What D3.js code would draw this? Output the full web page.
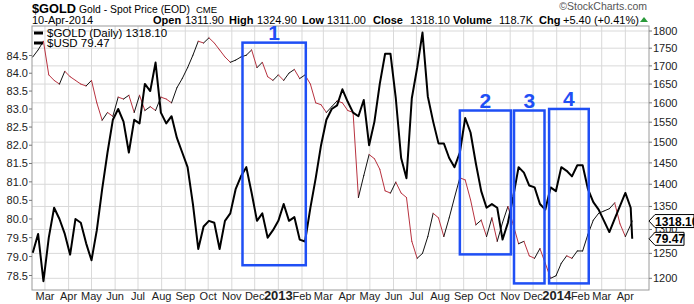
<!DOCTYPE html>
<html>
<head>
<meta charset="utf-8">
<script src="https://cdn.jsdelivr.net/npm/d3@7"></script>
<style>
  body { margin: 0; background: #fff; }
  text { font-family: Arial, "Liberation Sans", sans-serif; }
</style>
</head>
<body>
<script>
// Weekly closes (last point is 10-Apr-2014)
const dates = [
  "2012-02-14","2012-02-21","2012-02-28","2012-03-06","2012-03-13","2012-03-20","2012-03-27",
  "2012-04-03","2012-04-10","2012-04-17","2012-04-24","2012-05-01","2012-05-08","2012-05-15",
  "2012-05-22","2012-05-29","2012-06-05","2012-06-12","2012-06-19","2012-06-26","2012-07-03",
  "2012-07-10","2012-07-17","2012-07-24","2012-07-31","2012-08-07","2012-08-14","2012-08-21",
  "2012-08-28","2012-09-04","2012-09-11","2012-09-18","2012-09-25","2012-10-02","2012-10-09",
  "2012-10-16","2012-10-23","2012-10-30","2012-11-06","2012-11-13","2012-11-20","2012-11-27",
  "2012-12-04","2012-12-11","2012-12-18","2012-12-25","2013-01-01","2013-01-08","2013-01-15",
  "2013-01-22","2013-01-29","2013-02-05","2013-02-12","2013-02-19","2013-02-26","2013-03-05",
  "2013-03-12","2013-03-19","2013-03-26","2013-04-02","2013-04-09","2013-04-16","2013-04-23",
  "2013-04-30","2013-05-07","2013-05-14","2013-05-21","2013-05-28","2013-06-04","2013-06-11",
  "2013-06-18","2013-06-25","2013-07-02","2013-07-09","2013-07-16","2013-07-23","2013-07-30",
  "2013-08-06","2013-08-13","2013-08-20","2013-08-27","2013-09-03","2013-09-10","2013-09-17",
  "2013-09-24","2013-10-01","2013-10-08","2013-10-15","2013-10-22","2013-10-29","2013-11-05",
  "2013-11-12","2013-11-19","2013-11-26","2013-12-03","2013-12-10","2013-12-17","2013-12-24",
  "2013-12-31","2014-01-07","2014-01-14","2014-01-21","2014-01-28","2014-02-04","2014-02-11",
  "2014-02-18","2014-02-25","2014-03-04","2014-03-11","2014-03-18","2014-03-25","2014-04-01",
  "2014-04-08","2014-04-10"
];

const gold = [
  1725,1745,1770,1675,1660,1650,1685,1670,1660,1650,1645,1660,1600,1555,
  1575,1565,1615,1610,1620,1575,1620,1580,1590,1580,1615,1610,1600,1640,
  1665,1695,1730,1770,1765,1780,1765,1745,1725,1710,1716,1725,1730,1745,
  1695,1710,1670,1660,1675,1660,1680,1690,1665,1675,1650,1600,1595,1575,
  1590,1605,1600,1580,1575,1370,1420,1470,1460,1435,1385,1380,1405,1380,
  1370,1275,1240,1250,1285,1335,1325,1285,1325,1370,1415,1410,1365,1310,
  1320,1285,1325,1275,1315,1350,1310,1270,1275,1245,1240,1260,1230,1200,
  1205,1230,1245,1240,1255,1255,1290,1320,1335,1340,1345,1358,1312,1285,
  1310,1318.1
];

const usd = [
  79.1,79.6,78.35,79.5,80.3,80.0,79.6,79.05,80.0,79.9,79.35,78.9,79.7,80.8,
  81.8,82.7,83.0,82.65,81.8,82.7,82.6,83.7,83.5,84.3,82.9,82.6,82.8,82.2,
  81.8,81.4,80.4,79.2,79.8,79.95,79.9,79.2,79.95,80.15,80.8,81.15,81.4,80.7,
  79.95,80.15,79.5,79.7,79.95,80.4,79.95,80.05,79.45,79.4,80.3,81.1,82.0,82.7,
  83.0,83.1,83.55,83.2,82.9,82.8,83.25,82.0,82.65,83.7,84.55,84.55,83.3,81.65,
  81.1,83.3,84.15,85.15,83.35,82.65,82.05,82.05,81.65,81.4,81.8,82.75,82.35,81.5,
  80.75,80.3,80.4,80.3,79.45,79.9,80.6,81.4,81.25,80.9,80.85,80.4,80.25,80.85,
  80.75,81.4,81.3,81.15,81.45,81.45,80.8,80.45,80.25,79.95,79.65,80.0,80.35,80.7,
  80.3,79.47
];

const goldTicks = [1200,1250,1300,1350,1400,1450,1500,1550,1600,1650,1700,1750,1800];
const usdTicks = [78.5,79.0,79.5,80.0,80.5,81.0,81.5,82.0,82.5,83.0,83.5,84.0,84.5];

// annotation boxes: label, start date, end date, low gold, high gold
const boxLabels = ["1","2","3","4"];
const boxStart = ["2012-11-15","2013-08-27","2013-11-06","2013-12-22"];
const boxEnd = ["2013-02-06","2013-11-02","2013-12-16","2014-02-12"];
const boxLow = [1226,1248,1190,1190];
const boxHigh = [1766,1580,1580,1584];

const parse = d3.timeParse("%Y-%m-%d");
const days = dates.map(parse);

const W = 694, H = 304;
const pL = 32, pR = 649, pT = 26, pB = 290;
const blue = "#1f4ff5";
const red = "#b8323f";

const svg = d3.select("body").append("svg")
    .attr("width", W)
    .attr("height", H);

const x = d3.scaleTime()
    .domain([new Date(2012, 1, 13), new Date(2014, 4, 2)])
    .range([pL, pR]);
const yGold = d3.scaleLog().domain([1800, 1200]).range([31, 278.3]);
const yUsd = d3.scaleLog().domain([84.5, 78.5]).range([55.5, 275.5]);

// grid
const months = d3.timeMonth.range(new Date(2012, 2, 1), new Date(2014, 4, 1));
svg.append("g").selectAll("line").data(months).join("line")
    .attr("x1", d => x(d)).attr("x2", d => x(d))
    .attr("y1", pT).attr("y2", pB)
    .attr("stroke", "#d9d9d9");
svg.append("g").selectAll("line").data(goldTicks).join("line")
    .attr("x1", pL).attr("x2", pR)
    .attr("y1", d => yGold(d)).attr("y2", d => yGold(d))
    .attr("stroke", "#d9d9d9");

svg.append("rect")
    .attr("x", pL).attr("y", pT)
    .attr("width", pR - pL).attr("height", pB - pT)
    .attr("fill", "none").attr("stroke", "#9a9a9a");

// right axis (gold)
const gR = svg.append("g").attr("transform", `translate(${pR},0)`);
gR.selectAll("line").data(goldTicks).join("line")
    .attr("x1", 0).attr("x2", 3)
    .attr("y1", d => yGold(d)).attr("y2", d => yGold(d))
    .attr("stroke", "#777");
gR.selectAll("text").data(goldTicks).join("text")
    .attr("x", 4).attr("y", d => yGold(d) + 4)
    .attr("font-size", 11).attr("fill", "#222")
    .text(d => d);

// left axis (usd)
const gL = svg.append("g");
gL.selectAll("line").data(usdTicks).join("line")
    .attr("x1", pL - 3).attr("x2", pL)
    .attr("y1", d => yUsd(d)).attr("y2", d => yUsd(d))
    .attr("stroke", "#777");
gL.selectAll("text").data(usdTicks).join("text")
    .attr("x", pL - 4).attr("y", d => yUsd(d) + 4)
    .attr("text-anchor", "end")
    .attr("font-size", 11).attr("fill", "#222")
    .text(d => d.toFixed(1));

// bottom axis: month names, years in bold
svg.append("g").selectAll("text").data(months).join("text")
    .attr("x", d => x(d)).attr("y", 300)
    .attr("text-anchor", "middle")
    .attr("font-size", d => d.getMonth() === 0 ? 13 : 11)
    .attr("font-weight", d => d.getMonth() === 0 ? "bold" : "normal")
    .attr("fill", "#222")
    .text(d => d.getMonth() === 0 ? d.getFullYear() : d3.timeFormat("%b")(d));

// gold line, segments red on down moves
const seg = d3.range(1, gold.length);
svg.append("g").selectAll("line").data(seg).join("line")
    .attr("x1", i => x(days[i - 1])).attr("y1", i => yGold(gold[i - 1]))
    .attr("x2", i => x(days[i])).attr("y2", i => yGold(gold[i]))
    .attr("stroke", i => gold[i] < gold[i - 1] ? red : "#111")
    .attr("stroke-width", 1)
    .attr("stroke-linecap", "round");

// USD line
const usdLine = d3.line()
    .x((d, i) => x(days[i]))
    .y(d => yUsd(d));
svg.append("path")
    .datum(usd)
    .attr("d", usdLine)
    .attr("fill", "none")
    .attr("stroke", "#000")
    .attr("stroke-width", 2)
    .attr("stroke-linejoin", "round");

// blue annotation boxes
boxLabels.forEach((lab, i) => {
    const x0 = x(parse(boxStart[i])), x1 = x(parse(boxEnd[i]));
    const y0 = yGold(boxHigh[i]), y1 = yGold(boxLow[i]);
    svg.append("rect")
        .attr("x", x0).attr("y", y0)
        .attr("width", x1 - x0).attr("height", y1 - y0)
        .attr("fill", "none").attr("stroke", blue).attr("stroke-width", 2.5);
    svg.append("text")
        .attr("x", (x0 + x1) / 2).attr("y", y0 - 3)
        .attr("text-anchor", "middle")
        .attr("font-size", 21).attr("font-weight", "bold")
        .attr("fill", blue)
        .text(lab);
});

// legend
const legend = [["$GOLD (Daily) 1318.10", 37], ["$USD 79.47", 47]];
legend.forEach(([t, yy]) => {
    svg.append("line")
        .attr("x1", 34).attr("x2", 43).attr("y1", yy - 4).attr("y2", yy - 4)
        .attr("stroke", "#000").attr("stroke-width", 3);
    svg.append("text")
        .attr("x", 47).attr("y", yy)
        .attr("font-size", 11.5).attr("fill", "#000")
        .text(t);
});

// price tags on right axis
const tags = [[gold[gold.length - 1], yGold, "1318.10", 694], [usd[usd.length - 1], yUsd, "79.47", 684]];
tags.forEach(([v, sc, t, xr]) => {
    const yc = sc(v);
    svg.append("path")
        .attr("d", `M${pR},${yc} L${pR + 6},${yc - 6.5} L${xr},${yc - 6.5} L${xr},${yc + 6.5} L${pR + 6},${yc + 6.5} Z`)
        .attr("fill", "#fff").attr("stroke", "#000").attr("stroke-width", 1);
    svg.append("text")
        .attr("x", pR + 6).attr("y", yc + 4.5)
        .attr("font-size", 12).attr("font-weight", "bold")
        .text(t);
});

// header
svg.append("text").attr("x", 32).attr("y", 12.5)
    .attr("font-size", 13.5).attr("font-weight", "bold")
    .attr("textLength", 44).attr("lengthAdjust", "spacingAndGlyphs")
    .text("$GOLD");
svg.append("text").attr("x", 79).attr("y", 12.5)
    .attr("font-size", 11)
    .attr("textLength", 111).attr("lengthAdjust", "spacingAndGlyphs")
    .text("Gold - Spot Price (EOD)");
svg.append("text").attr("x", 196).attr("y", 12.5)
    .attr("font-size", 9.5).text("CME");
svg.append("text").attr("x", 647).attr("y", 10)
    .attr("text-anchor", "end")
    .attr("font-size", 10.5).attr("fill", "#555").text("\u00A9StockCharts.com");
svg.append("text").attr("x", 32).attr("y", 23.5)
    .attr("font-size", 11).text("10-Apr-2014");

const quote = [
    ["Open", true, 153], ["1311.90", false, 185],
    ["High", true, 229], ["1324.90", false, 257],
    ["Low", true, 302], ["1311.00", false, 327],
    ["Close", true, 373], ["1318.10", false, 410],
    ["Volume", true, 453], ["118.7K", false, 499],
    ["Chg", true, 539], ["+5.40 (+0.41%)", false, 563]
];
quote.forEach(([t, b, xx]) => {
    svg.append("text").attr("x", xx).attr("y", 23.5)
        .attr("font-size", 11).attr("font-weight", b ? "bold" : "normal")
        .text(t);
});
svg.append("path")
    .attr("d", "M640,22 L644,17 L648,22 Z")
    .attr("fill", "#2a9a3a");
</script>
</body>
</html>
